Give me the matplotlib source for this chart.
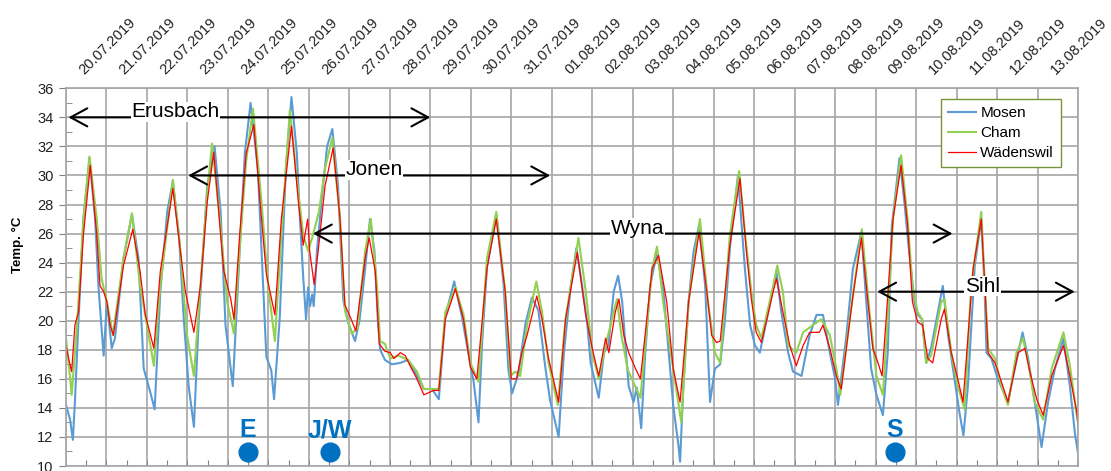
import matplotlib
matplotlib.use("Agg")
import matplotlib.pyplot as plt
import numpy as np

plt.rcParams['font.family'] = ['Liberation Sans', 'DejaVu Sans']

# days since 20.07.2019 00:00
date_labels = ['20.07.2019', '21.07.2019', '22.07.2019', '23.07.2019', '24.07.2019',
               '25.07.2019', '26.07.2019', '27.07.2019', '28.07.2019', '29.07.2019',
               '30.07.2019', '31.07.2019', '01.08.2019', '02.08.2019', '03.08.2019',
               '04.08.2019', '05.08.2019', '06.08.2019', '07.08.2019', '08.08.2019',
               '09.08.2019', '10.08.2019', '11.08.2019', '12.08.2019', '13.08.2019']

mosen_day = [0.00, 0.10, 0.17, 0.22, 0.31, 0.43, 0.58, 0.72, 0.80, 0.93, 1.01, 1.13, 1.21, 1.42,
             1.63, 1.79, 1.92, 2.08, 2.19, 2.33, 2.50, 2.64, 2.79, 2.91, 3.03, 3.16, 3.28, 3.49,
             3.67, 3.82, 3.94, 4.07, 4.12, 4.29, 4.42, 4.56, 4.74, 4.83, 4.95, 5.07, 5.14, 5.28,
             5.43, 5.57, 5.70, 5.78, 5.86, 5.93, 5.98, 6.03, 6.08, 6.12, 6.20, 6.31, 6.45, 6.58,
             6.72, 6.85, 6.98, 7.14, 7.25, 7.39, 7.51, 7.62, 7.70, 7.76, 7.88, 8.05, 8.26, 8.45,
             8.67, 8.84, 9.04, 9.21, 9.37, 9.59, 9.78, 9.95, 10.07, 10.19, 10.28, 10.40, 10.63,
             10.81, 10.93, 11.02, 11.18, 11.35, 11.51, 11.67, 11.84, 11.96, 12.17, 12.30, 12.47,
             12.61, 12.75, 12.88, 12.96, 13.16, 13.29, 13.40, 13.53, 13.64, 13.74, 13.82, 13.90,
             14.02, 14.10, 14.21, 14.31, 14.43, 14.60, 14.76, 14.89, 15.00, 15.13, 15.17, 15.25,
             15.38, 15.50, 15.64, 15.79, 15.91, 16.03, 16.16, 16.28, 16.40, 16.60, 16.77, 16.90,
             17.02, 17.14, 17.35, 17.55, 17.67, 17.84, 17.96, 18.17, 18.37, 18.54, 18.70, 18.87,
             19.00, 19.07, 19.28, 19.44, 19.65, 19.77, 19.89, 20.02, 20.18, 20.30, 20.40, 20.59,
             20.71, 20.83, 20.96, 21.04, 21.15, 21.25, 21.37, 21.54, 21.66, 21.79, 21.95, 22.07,
             22.17, 22.28, 22.45, 22.61, 22.69, 22.74, 22.86, 23.02, 23.27, 23.44, 23.63, 23.77,
             23.93, 24.10, 24.26, 24.43, 24.64, 24.80, 24.93, 25.00]
mosen_temp = [14.2, 13.2, 11.8, 14.4, 20.1, 27.0, 31.2, 27.0, 22.4, 17.6, 21.3, 18.1, 18.8, 24.3,
              27.3, 24.3, 16.7, 15.1, 13.9, 22.0, 27.5, 29.6, 25.9, 20.1, 15.5, 12.7, 20.1, 29.3,
              32.0, 27.5, 19.7, 16.7, 15.5, 24.8, 31.6, 35.0, 30.4, 24.8, 17.5, 16.6, 14.6, 20.2,
              30.4, 35.4, 31.6, 27.0, 23.0, 20.1, 22.3, 21.0, 21.8, 21.0, 24.8, 28.2, 32.0, 33.2,
              29.3, 21.4, 19.8, 18.6, 20.0, 23.6, 27.0, 24.8, 20.2, 18.0, 17.3, 17.0, 17.1, 17.3,
              16.2, 15.3, 15.3, 14.6, 20.3, 22.7, 20.3, 17.6, 15.8, 13.0, 18.5, 23.7, 27.3,
              22.5, 16.6, 15.0, 16.4, 19.8, 21.6, 20.7, 16.8, 14.5, 12.0, 17.8, 22.4,
              25.0, 22.4, 19.7, 17.1, 14.7, 17.8, 18.3, 22.0, 23.1, 21.3, 18.3, 15.5,
              14.4, 15.4, 12.6, 17.8, 22.4, 24.7, 22.0, 17.8, 14.2, 11.4, 10.3, 15.5,
              21.3, 24.7, 26.6, 22.4, 14.4, 16.7, 17.0, 20.1, 25.0, 30.0, 23.6, 19.7,
              18.3, 17.8, 20.6, 23.4, 20.6, 17.8, 16.5, 16.2, 19.0, 20.4, 20.4, 17.8,
              16.0, 14.2, 19.0, 23.6, 26.1, 21.3, 16.7, 14.9, 13.5, 17.8, 26.5, 31.2,
              28.2, 24.7, 21.3, 20.4, 20.1, 17.1, 18.1, 20.6, 22.4, 19.0, 16.0, 13.7,
              12.1, 15.5, 23.8, 27.0, 22.4, 17.8, 17.4, 16.0, 14.4, 16.7, 19.2, 17.4,
              14.4, 11.3, 14.4, 16.7, 18.8, 15.5, 12.1, 10.9]

cham_day = [0.00, 0.08, 0.14, 0.22, 0.31, 0.43, 0.58, 0.76, 0.88, 1.01, 1.16, 1.42, 1.63, 1.83,
            2.00, 2.17, 2.33, 2.64, 2.83, 2.99, 3.16, 3.32, 3.49, 3.61, 3.80, 3.98, 4.15, 4.29,
            4.45, 4.62, 4.83, 4.99, 5.16, 5.32, 5.53, 5.72, 5.86, 5.98, 6.08, 6.25, 6.40, 6.58,
            6.77, 6.89, 7.06, 7.20, 7.39, 7.53, 7.68, 7.76, 7.88, 8.01, 8.21, 8.45, 8.67, 8.84,
            9.08, 9.21, 9.37, 9.62, 9.82, 9.99, 10.19, 10.40, 10.63, 10.85, 10.98, 11.10, 11.22,
            11.39, 11.62, 11.76, 11.92, 12.15, 12.34, 12.66, 12.84, 13.00, 13.16, 13.33, 13.61,
            13.72, 13.88, 14.19, 14.48, 14.60, 14.75, 15.00, 15.20, 15.38, 15.66, 15.86, 16.03,
            16.16, 16.40, 16.63, 16.78, 16.93, 17.05, 17.18, 17.47, 17.57, 17.71, 17.84, 18.04,
            18.21, 18.45, 18.66, 18.87, 19.03, 19.13, 19.36, 19.66, 19.85, 20.02, 20.18, 20.30,
            20.43, 20.63, 20.79, 20.91, 21.04, 21.15, 21.25, 21.37, 21.62, 21.70, 21.87, 22.03,
            22.20, 22.36, 22.61, 22.70, 22.78, 22.95, 23.11, 23.27, 23.48, 23.64, 23.77, 23.93,
            24.14, 24.35, 24.64, 24.80, 24.97, 25.00]
cham_temp = [18.8, 16.7, 14.9, 17.8, 21.3, 27.0, 31.3, 27.0, 22.9, 21.3, 19.0, 24.3, 27.4, 22.4,
             19.7, 16.9, 22.4, 29.7, 24.7, 19.0, 16.2, 22.4, 28.9, 32.2, 27.0, 21.3, 19.1, 25.0,
             31.0, 34.6, 28.2, 22.5, 18.6, 25.9, 34.5, 29.3, 25.9, 24.8, 25.7, 27.5, 30.5, 32.6,
             27.0, 20.7, 19.1, 19.5, 24.8, 27.0, 22.5, 18.6, 18.4, 17.4, 17.6, 17.3, 16.5, 15.3,
             15.3, 15.3, 20.6, 22.3, 20.4, 17.1, 15.8, 24.3, 27.5, 22.0, 16.2, 16.5, 16.2,
             19.7, 22.7, 20.6, 17.1, 14.2, 20.1, 25.7, 22.0, 17.8, 16.0, 18.3, 21.5,
             19.0, 16.6, 14.7, 23.6, 25.1, 21.3, 16.7, 13.0, 21.3, 27.0, 21.3, 17.8,
             17.1, 25.9, 30.3, 25.9, 22.0, 19.7, 18.8, 22.4, 23.8, 22.0, 18.3, 17.8,
             19.2, 19.7, 20.1, 19.0, 16.7, 14.9, 20.1, 26.3, 20.6, 16.2, 14.9, 20.1,
             27.0, 31.4, 27.0, 22.4, 20.6, 20.1, 17.1, 17.6, 21.3, 21.5, 17.8, 15.5,
             13.9, 22.4, 27.5, 22.4, 18.1, 17.4, 15.5, 14.2, 17.8, 18.8, 17.1, 14.4,
             13.2, 16.7, 19.2, 16.9, 13.5, 13.0]

waedenswil_day = [0.00, 0.08, 0.14, 0.22, 0.31, 0.43, 0.60, 0.76, 0.84, 0.93, 1.01, 1.09, 1.17,
                  1.42, 1.65, 1.83, 1.96, 2.17, 2.33, 2.64, 2.83, 2.95, 3.16, 3.32, 3.49, 3.65,
                  3.82, 3.90, 4.07, 4.15, 4.29, 4.45, 4.64, 4.83, 4.95, 5.07, 5.16, 5.32, 5.57,
                  5.74, 5.86, 5.97, 6.02, 6.13, 6.23, 6.40, 6.60, 6.77, 6.89, 7.06, 7.16, 7.39,
                  7.49, 7.64, 7.74, 7.88, 8.01, 8.10, 8.26, 8.38, 8.50, 8.67, 8.84, 9.08, 9.21,
                  9.37, 9.62, 9.82, 9.99, 10.15, 10.40, 10.63, 10.85, 11.00, 11.13, 11.26, 11.39,
                  11.63, 11.76, 11.92, 12.17, 12.34, 12.63, 12.84, 13.00, 13.16, 13.33, 13.41,
                  13.57, 13.66, 13.78, 13.90, 14.07, 14.19, 14.48, 14.64, 14.84, 15.00, 15.17,
                  15.38, 15.64, 15.83, 15.95, 16.07, 16.16, 16.40, 16.65, 16.81, 16.93, 17.05,
                  17.18, 17.47, 17.55, 17.71, 17.88, 18.04, 18.21, 18.37, 18.61, 18.70, 18.87,
                  19.03, 19.15, 19.44, 19.65, 19.81, 19.93, 20.06, 20.16, 20.26, 20.43, 20.63,
                  20.79, 20.91, 21.04, 21.16, 21.29, 21.41, 21.62, 21.70, 21.87, 22.03, 22.16,
                  22.41, 22.61, 22.70, 22.78, 22.95, 23.19, 23.27, 23.52, 23.69, 23.81, 23.98,
                  24.14, 24.35, 24.64, 24.80, 24.97, 25.00]
waedenswil_temp = [18.3, 17.2, 16.5, 19.7, 20.6, 25.9, 30.7, 25.9, 22.4, 22.0, 21.3, 19.7, 19.0,
                   23.8, 26.3, 23.4, 20.4, 18.1, 23.4, 29.1, 24.7, 22.0, 19.2, 22.4, 28.2, 31.6,
                   25.9, 23.4, 21.5, 20.1, 25.9, 31.5, 33.5, 27.0, 23.2, 21.6, 20.4, 27.0, 33.4,
                   28.2, 25.2, 27.0, 24.8, 22.5, 24.8, 29.3, 31.9, 27.0, 21.1, 20.0, 19.3, 24.3,
                   25.7, 23.4, 18.4, 17.9, 17.8, 17.4, 17.8, 17.6, 16.9, 16.0, 14.9, 15.2, 15.2,
                   20.1, 22.2, 20.1, 16.8, 16.0, 23.6, 27.0, 22.0, 16.0, 16.0, 17.8, 19.0,
                   21.7, 20.1, 17.4, 14.4, 20.1, 24.7, 20.4, 18.1, 16.2, 18.8, 17.8,
                   20.6, 21.5, 19.0, 17.8, 16.7, 16.0, 23.6, 24.5, 21.3, 16.7, 14.4,
                   21.3, 26.1, 22.0, 19.0, 18.5, 18.6, 25.2, 29.8, 24.7, 21.5, 19.2,
                   18.5, 22.0, 22.9, 20.6, 18.3, 16.9, 18.3, 19.2, 19.2, 19.7, 18.1,
                   16.2, 15.3, 21.7, 25.7, 21.3, 18.1, 17.1, 16.2, 20.1, 27.0, 30.7,
                   26.6, 21.3, 19.9, 19.7, 17.4, 17.1, 20.1, 20.8, 17.8, 16.0, 14.4,
                   23.6, 27.0, 22.4, 17.8, 17.1, 15.1, 14.4, 17.8, 18.1, 16.5, 14.6,
                   13.5, 16.2, 18.3, 16.2, 13.7, 12.8]

# river ranges (double arrows)
rivers = ['Erusbach', 'Jonen', 'Wyna', 'Sihl']
river_from = [0.06, 3.02, 6.1, 20.04]
river_to = [9.0, 11.96, 21.9, 24.92]
river_level = [34, 30, 26, 22]
river_label_x = [2.71, 7.61, 14.12, 22.64]

# sampling markers
marks = ['E', 'J/W', 'S']
mark_day = [4.5, 6.53, 20.48]

fig = plt.figure(figsize=(11.11, 4.71), dpi=100)
ax = fig.add_axes([66 / 1111, 1 - 466 / 471, 1012 / 1111, 377.7 / 471])

ax.plot(mosen_day, mosen_temp, color='#5b9bd5', lw=1.5, label='Mosen')
ax.plot(cham_day, cham_temp, color='#92d050', lw=1.5, label='Cham')
ax.plot(waedenswil_day, waedenswil_temp, color='#ff0000', lw=0.9, label='Wädenswil')

ax.set_xlim(0, 25)
ax.set_ylim(10, 36)

gridc = '#a6a6a6'
ax.set_xticks(np.arange(25) + 0.5)
ax.set_xticklabels(date_labels)
ax.set_xticks(np.arange(26), minor=True)
ax.tick_params(axis='x', which='both', bottom=True, top=False, labelbottom=False,
               labeltop=True, direction='in', length=4, color='#808080')
ax.tick_params(axis='x', which='major', pad=8, labelsize=10.5, labelcolor='#222222')
for lab in ax.get_xticklabels():
    lab.set_rotation(45)
    lab.set_ha('left')
    lab.set_va('bottom')
    lab.set_rotation_mode('anchor')

ax.set_yticks(np.arange(10, 37, 2))
ax.set_yticks(np.arange(10, 37, 1), minor=True)
ax.tick_params(axis='y', which='major', direction='out', length=5, color='#808080',
               labelsize=10.5, labelcolor='#222222', pad=4)
ax.tick_params(axis='y', which='minor', direction='in', length=4, color='#808080')

ax.grid(True, which='minor', axis='x', color=gridc, lw=1.2)
ax.grid(True, which='major', axis='y', color=gridc, lw=1.2)
ax.set_axisbelow(True)
for s in ax.spines.values():
    s.set_color(gridc)
    s.set_linewidth(1.2)

fig.text(18 / 1111, 1 - 245 / 471, 'Temp. °C', rotation=90, ha='center', va='center',
         fontsize=9.5, fontweight='bold')

for name, x0, x1, y, xl in zip(rivers, river_from, river_to, river_level, river_label_x):
    ax.annotate('', xy=(x1, y), xytext=(x0, y),
                arrowprops=dict(arrowstyle='<->,head_length=1.2,head_width=0.65',
                                lw=1.5, color='black', shrinkA=0, shrinkB=0,
                                mutation_scale=10), zorder=5)
    ax.text(xl, y, name, ha='center', va='baseline', fontsize=15, zorder=6,
            bbox=dict(fc='white', ec='none', pad=0.5))

for m, d in zip(marks, mark_day):
    ax.plot(d, 10.95, 'o', color='#0070c0', ms=13.5, zorder=7, clip_on=False)
    ax.text(d, 12.45, m, ha='center', va='center', color='#0070c0', fontsize=18,
            fontweight='bold', zorder=7)

leg = ax.legend(loc='upper right', bbox_to_anchor=(0.983, 0.971), borderaxespad=0,
                fontsize=11, handlelength=1.8, handletextpad=0.3, labelspacing=0.4,
                fancybox=False, framealpha=1, borderpad=0.45)
leg.get_frame().set_edgecolor('#77933c')
leg.get_frame().set_linewidth(1.0)
leg.set_zorder(8)

fig.savefig('out.png', dpi=100)
